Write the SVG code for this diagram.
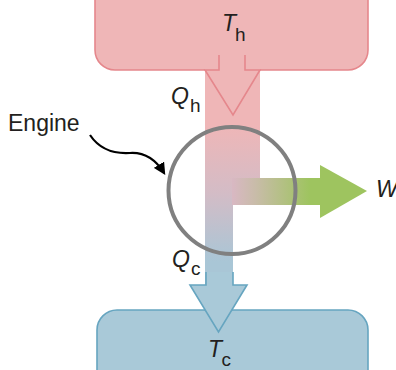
<svg xmlns="http://www.w3.org/2000/svg" width="396" height="370" viewBox="0 0 396 370">
<style>
text{font-family:"Liberation Sans",Arial,sans-serif;fill:#231f20}
.lbl{font-size:23px}
.it{font-style:italic}
.sub{font-size:19px}
.hot{fill:#efb6b7;stroke:#e5878c;stroke-width:1.6}
.cold{fill:#a9c9d8;stroke:#66a5c0;stroke-width:1.6}
</style>
<defs>
<linearGradient id="vgrad" gradientUnits="userSpaceOnUse" x1="0" y1="125" x2="0" y2="262">
<stop offset="0" stop-color="#efb6b7"/>
<stop offset="0.5" stop-color="#d3bcc6"/>
<stop offset="1" stop-color="#a9c6d6"/>
</linearGradient>
<linearGradient id="hgrad" gradientUnits="userSpaceOnUse" x1="233" y1="0" x2="310" y2="0">
<stop offset="0" stop-color="#d8b8c2"/>
<stop offset="0.3" stop-color="#c8bca8"/>
<stop offset="1" stop-color="#9ec45f"/>
</linearGradient>
<marker id="blk" viewBox="0 0 10 10" refX="8" refY="5" markerWidth="5.5" markerHeight="5.5" orient="auto" markerUnits="strokeWidth">
<path d="M0,0 L10,5 L0,10 Z" fill="#000"/>
</marker>
</defs>
<g id="hot-reservoir">
<rect class="hot" x="95" y="-40" width="273" height="110" rx="20"/>
<text class="lbl it" x="222" y="31">T<tspan class="sub" font-style="normal" x="235" y="41">h</tspan></text>
</g>
<g id="cold-reservoir">
<rect class="cold" x="97" y="310" width="271" height="100" rx="20"/>
<text class="lbl it" x="208" y="357">T<tspan class="sub" font-style="normal" x="221.5" y="366">c</tspan></text>
</g>
<g id="connectors">
<rect x="205" y="69" width="55" height="110" fill="url(#vgrad)"/>
<rect x="205" y="178" width="28" height="108" fill="url(#vgrad)"/>
<rect x="232" y="178" width="89" height="27" fill="url(#hgrad)"/>
<polygon points="320,165 367,191 320,218" fill="#9ec45f"/>
<path class="hot" d="M219,55 V70 H205 L233,115 L260,70 H245 V55"/>
<path class="cold" d="M206,272 V285 H190 L218.5,332 L247,285 H233 V272"/>
<path d="M90,135 C100,150 114,154 130,153 C146,152 156,160 164,173" fill="none" stroke="#000" stroke-width="2.2" marker-end="url(#blk)"/>
</g>
<g id="engine">
<circle cx="232" cy="190.5" r="63.5" fill="none" stroke="#808080" stroke-width="4"/>
<text x="8" y="131" style="font-size:23px">Engine</text>
</g>
<g id="labels">
<text class="lbl it" x="171" y="104">Q<tspan class="sub" font-style="normal" x="190" y="112">h</tspan></text>
<text class="lbl it" x="172" y="267">Q<tspan class="sub" font-style="normal" x="191" y="275">c</tspan></text>
<text class="lbl it" x="376" y="197">W</text>
</g>
</svg>
